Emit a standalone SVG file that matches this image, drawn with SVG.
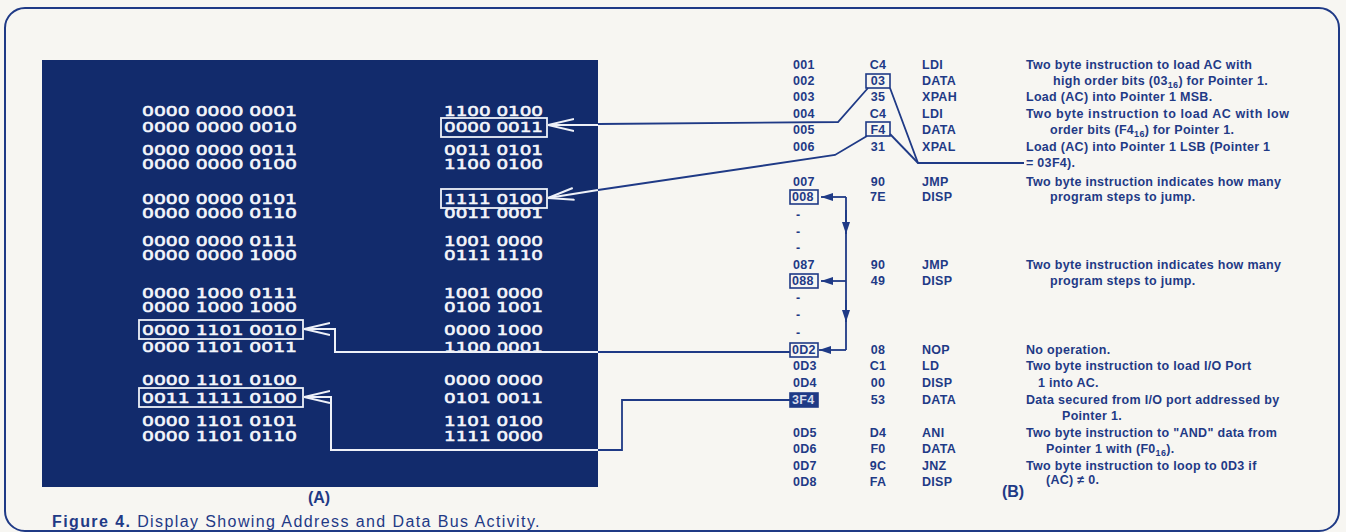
<svg xmlns="http://www.w3.org/2000/svg" width="1346" height="532" viewBox="0 0 1346 532">
<style>
.bin{font-family:"DejaVu Sans",sans-serif;font-size:14.5px;fill:#f4f6fb;stroke:#f4f6fb;stroke-width:0.6;}
.t{font-family:"Liberation Sans",Arial,sans-serif;font-size:12.5px;font-weight:bold;fill:#1f3a86;letter-spacing:0.3px;}
.h{text-anchor:middle;}
.wl{fill:none;stroke:#eef1f8;stroke-width:2;}
.nl{fill:none;stroke:#1f3a86;stroke-width:1.8;}
.wb{fill:none;stroke:#eef1f8;stroke-width:1.8;}
.nb{fill:none;stroke:#1f3a86;stroke-width:1.6;}
.cap{font-family:"Liberation Sans",Arial,sans-serif;font-size:16px;fill:#1f3a86;}
</style>
<defs>
<marker id="wa" viewBox="0 0 26 14" refX="26" refY="7" markerWidth="26" markerHeight="14" markerUnits="userSpaceOnUse" orient="auto-start-reverse">
<path d="M0,1 L26,7 L0,13" fill="none" stroke="#eef1f8" stroke-width="2"/>
</marker>
<marker id="na" viewBox="0 0 12 8" refX="12" refY="4" markerWidth="12" markerHeight="8" markerUnits="userSpaceOnUse" orient="auto">
<path d="M0,0 L12,4 L0,8 Z" fill="#1f3a86"/>
</marker>
</defs>
<rect x="0" y="0" width="1346" height="532" fill="#f7f6f2"/>
<rect x="5" y="8" width="1334" height="523" rx="20" fill="none" stroke="#1f3a86" stroke-width="2"/>

<g id="panelA">
<rect x="42" y="60" width="556" height="427" fill="#122b6c"/>
</g>

<g id="addressColumn" class="bin">
<text x="142" y="116" textLength="155" lengthAdjust="spacingAndGlyphs">0000 0000 0001</text>
<text x="142" y="132" textLength="155" lengthAdjust="spacingAndGlyphs">0000 0000 0010</text>
<text x="142" y="155" textLength="155" lengthAdjust="spacingAndGlyphs">0000 0000 0011</text>
<text x="142" y="169" textLength="155" lengthAdjust="spacingAndGlyphs">0000 0000 0100</text>
<text x="142" y="204" textLength="155" lengthAdjust="spacingAndGlyphs">0000 0000 0101</text>
<text x="142" y="218" textLength="155" lengthAdjust="spacingAndGlyphs">0000 0000 0110</text>
<text x="142" y="246" textLength="155" lengthAdjust="spacingAndGlyphs">0000 0000 0111</text>
<text x="142" y="260" textLength="155" lengthAdjust="spacingAndGlyphs">0000 0000 1000</text>
<text x="142" y="298" textLength="155" lengthAdjust="spacingAndGlyphs">0000 1000 0111</text>
<text x="142" y="312" textLength="155" lengthAdjust="spacingAndGlyphs">0000 1000 1000</text>
<text x="142" y="335" textLength="155" lengthAdjust="spacingAndGlyphs">0000 1101 0010</text>
<text x="142" y="352" textLength="155" lengthAdjust="spacingAndGlyphs">0000 1101 0011</text>
<text x="142" y="385" textLength="155" lengthAdjust="spacingAndGlyphs">0000 1101 0100</text>
<text x="142" y="403" textLength="155" lengthAdjust="spacingAndGlyphs">0011 1111 0100</text>
<text x="142" y="426" textLength="155" lengthAdjust="spacingAndGlyphs">0000 1101 0101</text>
<text x="142" y="441" textLength="155" lengthAdjust="spacingAndGlyphs">0000 1101 0110</text>
</g>

<g id="dataColumn" class="bin">
<text x="444" y="116" textLength="99" lengthAdjust="spacingAndGlyphs">1100 0100</text>
<text x="444" y="132" textLength="99" lengthAdjust="spacingAndGlyphs">0000 0011</text>
<text x="444" y="155" textLength="99" lengthAdjust="spacingAndGlyphs">0011 0101</text>
<text x="444" y="169" textLength="99" lengthAdjust="spacingAndGlyphs">1100 0100</text>
<text x="444" y="204" textLength="99" lengthAdjust="spacingAndGlyphs">1111 0100</text>
<text x="444" y="218" textLength="99" lengthAdjust="spacingAndGlyphs">0011 0001</text>
<text x="444" y="246" textLength="99" lengthAdjust="spacingAndGlyphs">1001 0000</text>
<text x="444" y="260" textLength="99" lengthAdjust="spacingAndGlyphs">0111 1110</text>
<text x="444" y="298" textLength="99" lengthAdjust="spacingAndGlyphs">1001 0000</text>
<text x="444" y="312" textLength="99" lengthAdjust="spacingAndGlyphs">0100 1001</text>
<text x="444" y="335" textLength="99" lengthAdjust="spacingAndGlyphs">0000 1000</text>
<text x="444" y="352" textLength="99" lengthAdjust="spacingAndGlyphs">1100 0001</text>
<text x="444" y="385" textLength="99" lengthAdjust="spacingAndGlyphs">0000 0000</text>
<text x="444" y="403" textLength="99" lengthAdjust="spacingAndGlyphs">0101 0011</text>
<text x="444" y="426" textLength="99" lengthAdjust="spacingAndGlyphs">1101 0100</text>
<text x="444" y="441" textLength="99" lengthAdjust="spacingAndGlyphs">1111 0000</text>
</g>

<g id="panelBoxes">
<rect class="wb" x="441" y="118" width="106" height="19"/>
<rect class="wb" x="441" y="189" width="106" height="19"/>
<rect class="wb" x="139" y="320" width="164" height="19"/>
<rect class="wb" x="139" y="388" width="164" height="19"/>
</g>

<g id="tableBoxes">
<rect class="nb" x="866" y="74" width="24" height="14"/>
<rect class="nb" x="866" y="122" width="24" height="14"/>
<rect class="nb" x="790" y="190" width="28" height="14"/>
<rect class="nb" x="790" y="274" width="28" height="14"/>
<rect class="nb" x="790" y="343" width="28" height="14"/>
<rect x="790" y="393" width="28" height="14" fill="#1f3a86" stroke="#1f3a86" stroke-width="1.6"/>
</g>

<g id="connectors">
<path class="wl" d="M548,125 L598,125" marker-start="url(#wa)"/>
<path class="nl" d="M598,124 L838,122 L868,88"/>
<path class="wl" d="M548,198 L598,190" marker-start="url(#wa)"/>
<path class="nl" d="M598,190 L835,155 L867,136"/>
<path class="nl" d="M890,88 L918,163 L1024,163"/>
<path class="nl" d="M890,134 L918,163"/>
<path class="wl" d="M304,329 L335,329 L335,352 L598,352" marker-start="url(#wa)"/>
<path class="nl" d="M598,352 L790,352"/>
<path class="wl" d="M304,397 L331,397 L331,450 L598,450" marker-start="url(#wa)"/>
<path class="nl" d="M598,450 L622,450 L622,400 L790,400"/>
<path class="nl" d="M846,197 L846,350"/>
<path class="nl" d="M846,197 L821,197" marker-end="url(#na)"/>
<path class="nl" d="M846,281 L821,281" marker-end="url(#na)"/>
<path class="nl" d="M846,350 L819,350" marker-end="url(#na)"/>
<path class="nl" d="M846,210 L846,234" marker-end="url(#na)"/>
<path class="nl" d="M846,300 L846,322" marker-end="url(#na)"/>
</g>

<g id="tableB" class="t">
<text x="793" y="69">001</text><text class="h" x="878" y="69">C4</text><text x="922" y="69">LDI</text><text x="1026" y="69">Two byte instruction to load AC with</text>
<text x="793" y="85">002</text><text class="h" x="878" y="85">03</text><text x="922" y="85">DATA</text><text x="1053" y="85">high order bits (03<tspan font-size="9" dy="3">16</tspan><tspan dy="-3">) for Pointer 1.</tspan></text>
<text x="793" y="101">003</text><text class="h" x="878" y="101">35</text><text x="922" y="101">XPAH</text><text x="1026" y="101">Load (AC) into Pointer 1 MSB.</text>
<text x="793" y="118">004</text><text class="h" x="878" y="118">C4</text><text x="922" y="118">LDI</text><text x="1026" y="118" letter-spacing="0.6">Two byte instruction to load AC with low</text>
<text x="793" y="134">005</text><text class="h" x="878" y="134">F4</text><text x="922" y="134">DATA</text><text x="1050" y="134">order bits (F4<tspan font-size="9" dy="3">16</tspan><tspan dy="-3">) for Pointer 1.</tspan></text>
<text x="793" y="151">006</text><text class="h" x="878" y="151">31</text><text x="922" y="151">XPAL</text><text x="1026" y="151">Load (AC) into Pointer 1 LSB (Pointer 1</text>
<text x="1026" y="167">= 03F4).</text>
<text x="793" y="186">007</text><text class="h" x="878" y="186">90</text><text x="922" y="186">JMP</text><text x="1026" y="186">Two byte instruction indicates how many</text>
<text x="792" y="201">008</text><text class="h" x="878" y="201">7E</text><text x="922" y="201">DISP</text><text x="1050" y="201">program steps to jump.</text>
<text x="796" y="219">-</text><text x="796" y="236">-</text><text x="796" y="252">-</text>
<text x="793" y="269">087</text><text class="h" x="878" y="269">90</text><text x="922" y="269">JMP</text><text x="1026" y="269">Two byte instruction indicates how many</text>
<text x="792" y="285">088</text><text class="h" x="878" y="285">49</text><text x="922" y="285">DISP</text><text x="1050" y="285">program steps to jump.</text>
<text x="796" y="302">-</text><text x="796" y="319">-</text><text x="796" y="337">-</text>
<text x="792" y="354">0D2</text><text class="h" x="878" y="354">08</text><text x="922" y="354">NOP</text><text x="1026" y="354">No operation.</text>
<text x="793" y="370">0D3</text><text class="h" x="878" y="370">C1</text><text x="922" y="370">LD</text><text x="1026" y="370">Two byte instruction to load I/O Port</text>
<text x="793" y="387">0D4</text><text class="h" x="878" y="387">00</text><text x="922" y="387">DISP</text><text x="1038" y="387">1 into AC.</text>
<text x="792" y="404" fill="#d6dcec">3F4</text><text class="h" x="878" y="404">53</text><text x="922" y="404">DATA</text><text x="1026" y="404">Data secured from I/O port addressed by</text>
<text x="1062" y="420">Pointer 1.</text>
<text x="793" y="437">0D5</text><text class="h" x="878" y="437">D4</text><text x="922" y="437">ANI</text><text x="1026" y="437">Two byte instruction to "AND" data from</text>
<text x="793" y="453">0D6</text><text class="h" x="878" y="453">F0</text><text x="922" y="453">DATA</text><text x="1046" y="453">Pointer 1 with (F0<tspan font-size="9" dy="3">16</tspan><tspan dy="-3">).</tspan></text>
<text x="793" y="470">0D7</text><text class="h" x="878" y="470">9C</text><text x="922" y="470">JNZ</text><text x="1026" y="470">Two byte instruction to loop to 0D3 if</text>
<text x="793" y="486">0D8</text><text class="h" x="878" y="486">FA</text><text x="922" y="486">DISP</text><text x="1046" y="484">(AC) ≠ 0.</text>
</g>

<g id="captions">
<text class="cap" x="319" y="503" text-anchor="middle" font-weight="bold" font-size="15">(A)</text>
<text class="cap" x="1013" y="497" text-anchor="middle" font-weight="bold" font-size="15.5">(B)</text>
<text class="cap" x="52" y="527" font-size="16.5" letter-spacing="1.4"><tspan font-weight="bold">Figure 4.</tspan> Display Showing Address and Data Bus Activity.</text>
</g>
</svg>
